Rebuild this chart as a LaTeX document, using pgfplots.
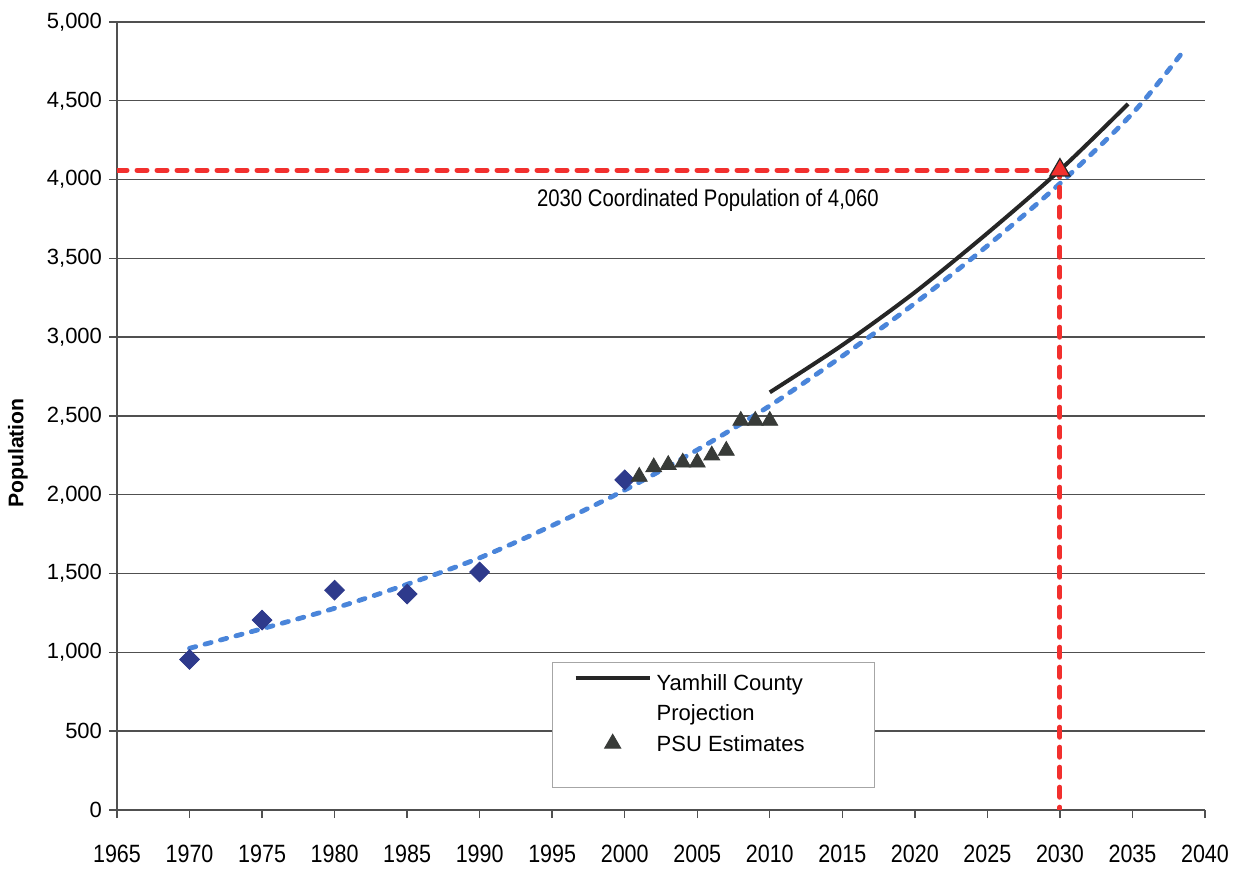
\documentclass[border=0pt]{standalone}
\usepackage{fontspec}
\setmainfont{Liberation Sans}
\newfontfamily\narrowfont[FakeStretch=0.86]{Liberation Sans}
\newfontfamily\notefont[FakeStretch=0.845]{Liberation Sans}
\usepackage{pgfplots}
\pgfplotsset{compat=1.18}

\definecolor{diam}{HTML}{2E3A8C}
\definecolor{trend}{HTML}{4A85DA}
\definecolor{proj}{HTML}{262626}
\definecolor{psu}{HTML}{383B38}
\definecolor{coord}{HTML}{F2302E}
\definecolor{gridc}{HTML}{505050}

\pgfplotsset{
    lineleg/.style={legend image code/.code={\draw[#1] (0bp,3bp) -- (37bp,3bp);}},
    markleg/.style={legend image code/.code={\draw[mark repeat=2,mark phase=2,#1] plot coordinates {(0bp,1bp) (18.5bp,1bp) (37bp,1bp)};}},
}

\begin{document}
\begin{tikzpicture}
\begin{axis}[
    at={(0,0)}, anchor=south west,
    scale only axis, width=544bp, height=394bp,
    xmin=1965, xmax=2040, ymin=0, ymax=5000,
    axis lines=left, axis line style={-, gridc, line width=0.7bp},
    xtick={1965,1970,...,2040}, ytick={0,500,...,5000},
    tick align=outside, major tick length=4bp,
    tick style={gridc, line width=0.7bp},
    ymajorgrids, grid style={gridc, line width=0.7bp},
    /pgf/number format/assume math mode=true,
    x tick label style={/pgf/number format/1000 sep=, font=\narrowfont\fontsize{12.5bp}{14bp}\selectfont, yshift=-10bp},
    y tick label style={/pgf/number format/1000 sep={,}, font=\fontsize{11bp}{13bp}\selectfont, xshift=0bp},
    ylabel={Population},
    ylabel style={at={(axis description cs:-0.091,0.453)}, anchor=center, font=\bfseries\fontsize{10.6bp}{12bp}\selectfont},
    legend style={at={(axis description cs:0.4,0.188)}, anchor=north west,
        draw=gray!70, line width=0.5bp, inner xsep=10.5bp, inner ysep=6bp,
        font=\fontsize{11bp}{13bp}\selectfont,
        nodes={inner sep=0pt, text height=8bp, text depth=2bp},
        row sep=5bp, /tikz/every odd column/.append style={column sep=2.5bp}},
    legend cell align=left,
]
% census counts
\addplot[only marks, mark=square*, mark size=3.5bp, mark options={rotate=45, diam}, forget plot]
    coordinates {(1970,955) (1975,1205) (1980,1395) (1985,1370) (1990,1510) (2000,2095)};
% trend line
\addplot[trend, line width=2.4bp, line cap=round, dash pattern=on 3.2bp off 4.8bp, smooth, forget plot]
    coordinates {(1970,1026) (1975,1150) (1980,1280) (1985,1432) (1990,1600) (1995,1805)
                 (2000,2030) (2005,2285) (2010,2565) (2015,2880) (2020,3215) (2025,3580)
                 (2030,3975) (2035,4420) (2038.3,4790)};
% county projection
\addplot[proj, line width=2bp, smooth, lineleg]
    coordinates {(2010,2650) (2015,2950) (2020,3285) (2025,3660) (2030,4060) (2034.7,4480)};
\addlegendentry{\makebox[98.5bp][l]{Yamhill County}}
\addlegendimage{empty legend}
\addlegendentry{Projection}
% PSU estimates
\addplot[only marks, mark=triangle*, mark size=4.6bp, mark options={psu}, markleg]
    coordinates {(2001,2115) (2002,2175) (2003,2190) (2004,2205) (2005,2205)
                 (2006,2250) (2007,2280) (2008,2470) (2009,2470) (2010,2470)};
\addlegendentry{PSU Estimates}
\addlegendimage{empty legend}
\addlegendentry[text height=5bp, text depth=0bp]{}
% coordinated population guide
\addplot[coord, line width=2.5bp, line cap=round, dash pattern=on 5bp off 5bp, forget plot]
    coordinates {(1965,4060) (2030,4060) (2030,0)};
\addplot[only marks, mark=triangle*, mark size=5.8bp, mark options={fill=coord, draw=proj, line width=0.6bp}, forget plot]
    coordinates {(2030,4060)};
\node[anchor=base east, font=\notefont\fontsize{12bp}{14bp}\selectfont] at (axis cs:2018,3830) {2030 Coordinated Population of 4,060};
\end{axis}
\pgfresetboundingbox
\path[use as bounding box] (-58.5bp,-31.5bp) rectangle (558bp,405bp);
\end{tikzpicture}
\end{document}
